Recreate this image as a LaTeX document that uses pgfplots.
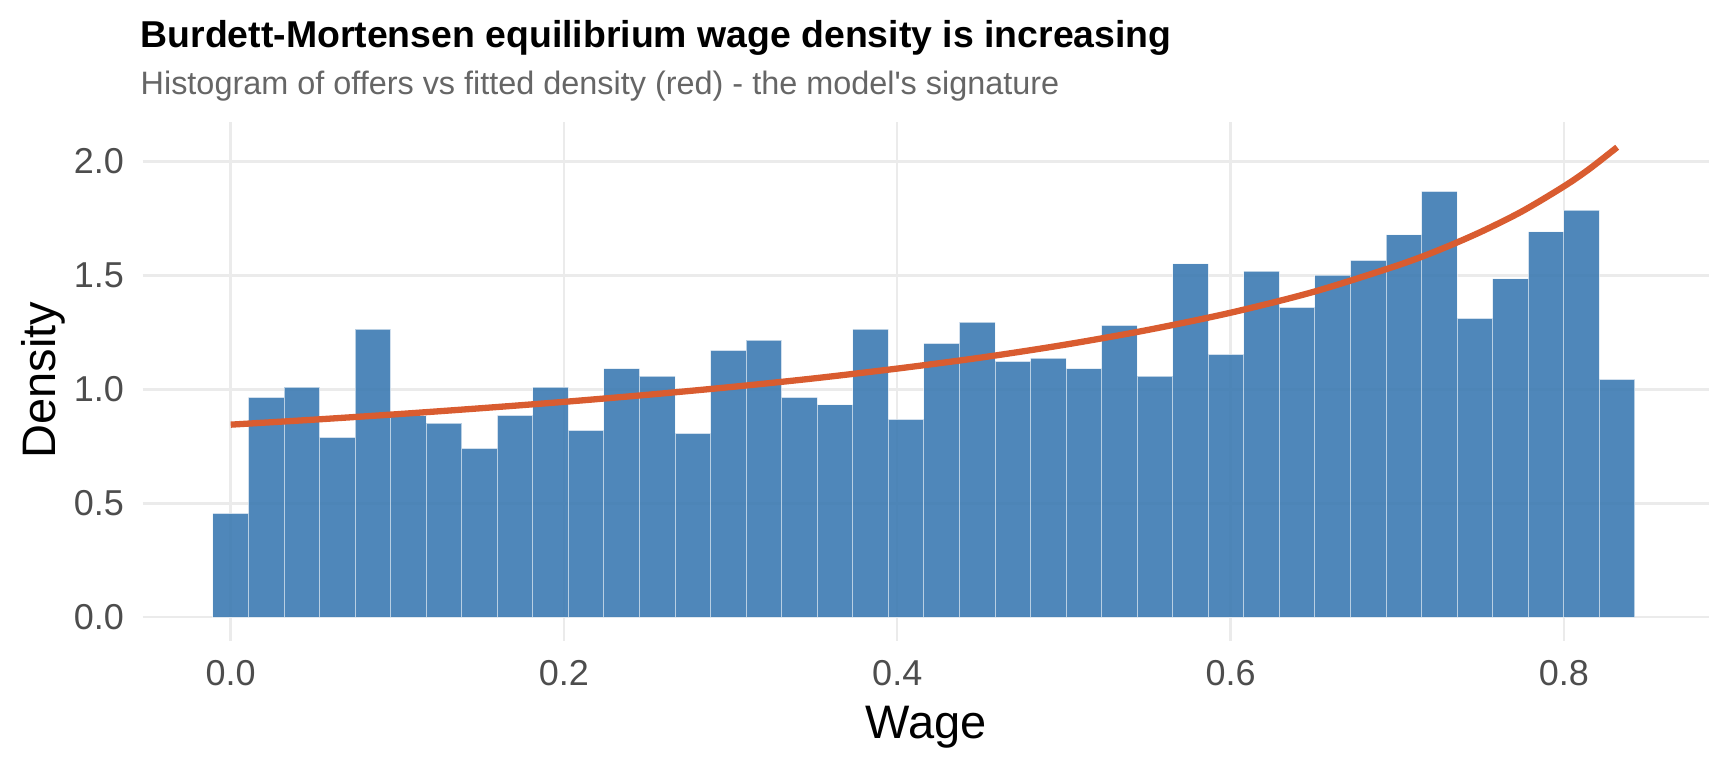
\documentclass[border=0pt]{standalone}
\usepackage{fontspec}
\setmainfont{Liberation Sans}
\usepackage{pgfplots}
\pgfplotsset{compat=1.18}
\definecolor{barblue}{RGB}{60,122,178}
\definecolor{curvered}{RGB}{217,92,48}
\definecolor{gridgray}{RGB}{235,235,235}
\definecolor{ticklab}{RGB}{77,77,77}
\definecolor{subgray}{RGB}{102,102,102}
\begin{document}
\begin{tikzpicture}[x=1pt,y=1pt]
\useasboundingbox (0,0) rectangle (1728,768);
\begin{axis}[
  at={(142.7pt,127pt)}, anchor=south west,
  scale only axis, width=1566.6pt, height=519.3pt,
  xmin=-0.0528, xmax=0.8873, ymin=-0.104, ymax=2.174,
  axis line style={draw=none},
  major tick length=0pt,
  xtick={0,0.2,0.4,0.6,0.8}, ytick={0,0.5,1,1.5,2},
  grid=major, major grid style={draw=gridgray, line width=2.4pt},
  xticklabel style={font=\fontsize{36}{40}\selectfont, text=ticklab, anchor=north, inner sep=0pt, yshift=-19pt},
  yticklabel style={font=\fontsize{36}{40}\selectfont, text=ticklab, anchor=east, inner sep=0pt, xshift=-18.7pt},
  /pgf/number format/.cd, fixed, fixed zerofill, precision=1, assume math mode=true,
]
\addplot[ybar interval, fill=barblue, fill opacity=0.9, draw=white, draw opacity=0.6, line width=1pt] coordinates {
(-0.01067,0.456) (0.01067,0.965) (0.03200,1.010) (0.05333,0.789) (0.07467,1.264)
(0.09600,0.884) (0.11733,0.852) (0.13867,0.741) (0.16000,0.886) (0.18133,1.010)
(0.20267,0.820) (0.22400,1.091) (0.24533,1.058) (0.26667,0.807) (0.28800,1.171)
(0.30933,1.216) (0.33067,0.965) (0.35200,0.932) (0.37333,1.264) (0.39467,0.868)
(0.41600,1.202) (0.43733,1.295) (0.45867,1.123) (0.48000,1.137) (0.50133,1.091)
(0.52267,1.281) (0.54400,1.058) (0.56533,1.550) (0.58667,1.153) (0.60800,1.518)
(0.62933,1.360) (0.65067,1.501) (0.67200,1.566) (0.69333,1.677) (0.71467,1.868)
(0.73600,1.311) (0.75733,1.485) (0.77867,1.691) (0.80000,1.786) (0.82133,1.044)
(0.84267,1.044)
};
\addplot[curvered, line width=6.3pt, smooth, no markers] coordinates {
(0,0.845) (0.05,0.867) (0.10,0.891) (0.15,0.917) (0.20,0.945) (0.25,0.976)
(0.30,1.010) (0.35,1.048) (0.40,1.091) (0.45,1.139) (0.50,1.195) (0.55,1.260)
(0.60,1.336) (0.65,1.428) (0.70,1.543) (0.725,1.611) (0.75,1.690) (0.775,1.781)
(0.80,1.890) (0.815,1.965) (0.832,2.062)
};
\end{axis}
\node[anchor=base west, inner sep=0pt, font=\fontsize{37.4}{42}\selectfont\bfseries] at (140.5,720.3) {Burdett-Mortensen equilibrium wage density is increasing};
\node[anchor=base west, inner sep=0pt, text=subgray, font=\fontsize{32.4}{36}\selectfont] at (140.5,673) {Histogram of offers vs fitted density (red) - the model\textquotesingle s signature};
\node[anchor=base, inner sep=0pt, font=\fontsize{47}{52}\selectfont] at (926,29.7) {Wage};
\node[anchor=base, rotate=90, inner sep=0pt, font=\fontsize{47}{52}\selectfont] at (55,388) {Density};
\end{tikzpicture}
\end{document}
